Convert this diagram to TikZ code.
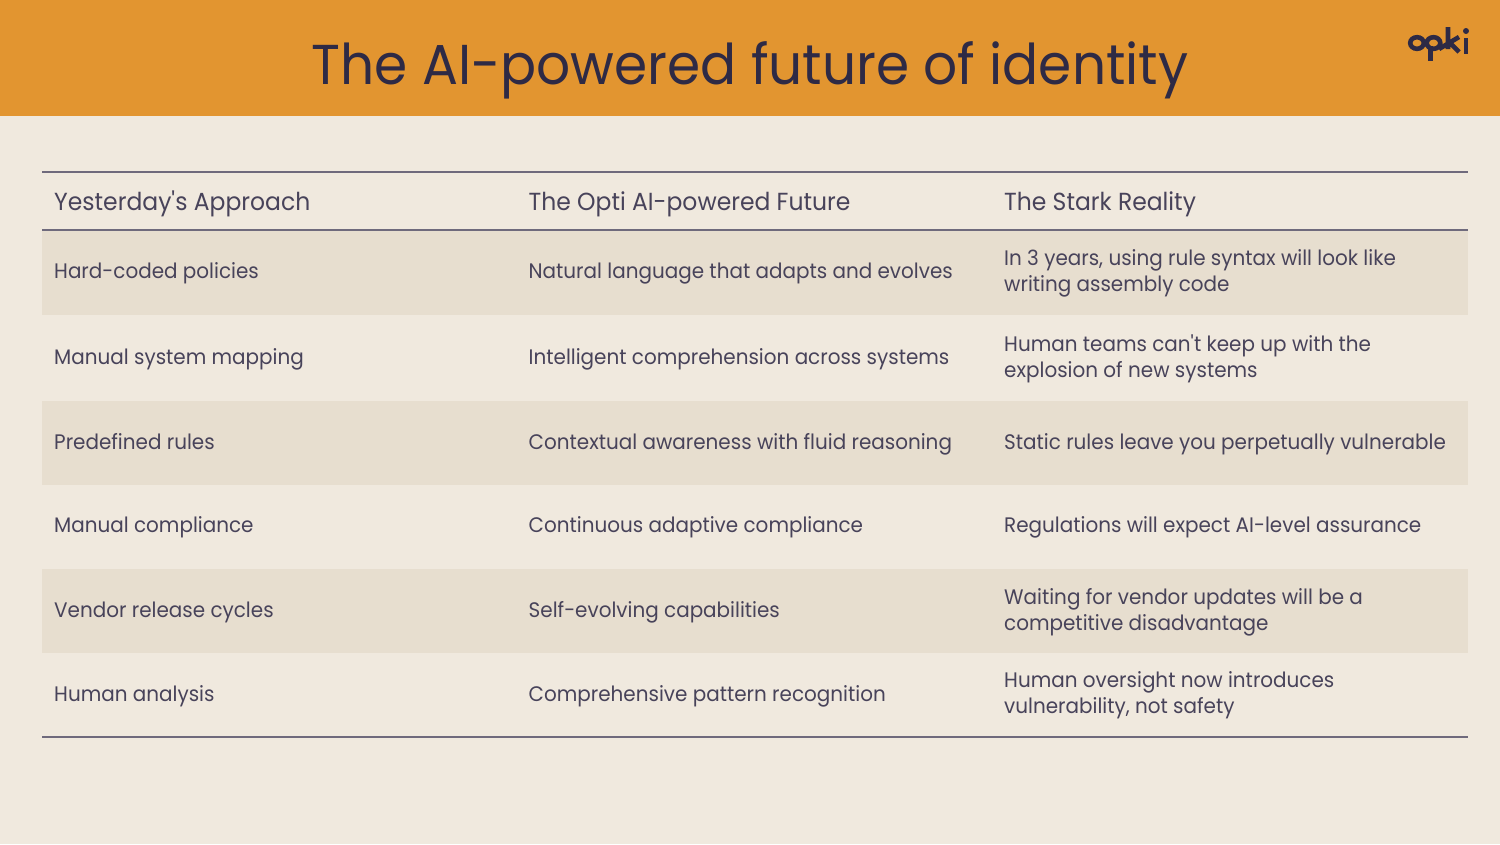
\documentclass[tikz,border=0pt]{standalone}
\usepackage{fontspec}
\setmainfont[FakeStretch=0.95]{Poppins}
\usetikzlibrary{positioning}
\definecolor{pagebg}{HTML}{F0E9DE}
\definecolor{headbg}{HTML}{E29530}
\definecolor{bandbg}{HTML}{E7DECF}
\definecolor{inkdark}{HTML}{2E2A45}
\definecolor{inkbody}{HTML}{48435A}
\definecolor{rulecol}{HTML}{6F6A7C}
\tikzset{
  band/.style={fill=bandbg,anchor=north west,minimum width=1426pt,minimum height=83.5pt,inner sep=0pt},
  cell/.style={anchor=base west,inner sep=0pt,align=left,text=inkbody,font=\fontsize{21}{26}\selectfont},
  headcell/.style={anchor=base west,inner sep=0pt,text=inkbody,font=\fontsize{24.7}{28}\selectfont},
  tablerule/.style={draw=rulecol,line width=1.4pt},
  logoline/.style={draw=inkdark,line width=4.6pt}
}
\begin{document}
\begin{tikzpicture}[x=1pt,y=-1pt]
  \useasboundingbox (0,0) rectangle (1500,844);
  \fill[pagebg] (0,0) rectangle (1500,844);
  \fill[headbg] (0,0) rectangle (1500,116);
  \node[anchor=base,text=inkdark,inner sep=0pt,font=\fontsize{56.2}{60}\selectfont] (title) at (750,84) {The AI-powered future of identity};
  % logo
  \draw[logoline] (1417,43) ellipse (6.8pt and 5.8pt);
  \draw[logoline] (1433.5,43) ellipse (6.8pt and 5.8pt);
  \draw[logoline] (1430.5,46) -- (1430.5,61);
  \draw[logoline] (1448,27) -- (1448,49) (1439,49) -- (1459,37) (1450,43) -- (1459,52);
  \draw[logoline] (1466,38) -- (1466,54);
  \fill[inkdark] (1466,31) circle (3pt);
  % bands
  \foreach \i/\ytop in {1/231,3/401,5/569}
    \node[band] (band\i) at (42,\ytop) {};
  % rules
  \coordinate (ruleAl) at (42,172); \coordinate (ruleAr) at (1468,172);
  \coordinate (ruleBl) at (42,230); \coordinate (ruleBr) at (1468,230);
  \coordinate (ruleCl) at (42,737); \coordinate (ruleCr) at (1468,737);
  \draw[tablerule] (ruleAl) -- (ruleAr);
  \draw[tablerule] (ruleBl) -- (ruleBr);
  \draw[tablerule] (ruleCl) -- (ruleCr);
  % header
  \node[headcell] (headA) at (54,210) {Yesterday\textquotesingle s Approach};
  \node[headcell] (headB) at (528.5,210) {The Opti AI-powered Future};
  \node[headcell] (headC) at (1004,210) {The Stark Reality};
  % rows
  \foreach \i/\yy/\yc/\ca/\cb/\cc in {
    1/278/291/{Hard-coded policies}/{Natural language that adapts and evolves}/{In 3 years, using rule syntax will look like\\writing assembly code},
    2/364/377/{Manual system mapping}/{Intelligent comprehension across systems}/{Human teams can\textquotesingle t keep up with the\\explosion of new systems},
    3/449/449/{Predefined rules}/{Contextual awareness with fluid reasoning}/{Static rules leave you perpetually vulnerable},
    4/532.5/532.5/{Manual compliance}/{Continuous adaptive compliance}/{Regulations will expect AI-level assurance},
    5/617/630/{Vendor release cycles}/{Self-evolving capabilities}/{Waiting for vendor updates will be a\\competitive disadvantage},
    6/701/713/{Human analysis}/{Comprehensive pattern recognition}/{Human oversight now introduces\\vulnerability, not safety}}
  {
    \node[cell] (cella\i) at (54,\yy) {\ca};
    \node[cell] (cellb\i) at (528.5,\yy) {\cb};
    \node[cell] (cellc\i) at (1004,\yc) {\cc};
  }
\end{tikzpicture}
\end{document}
